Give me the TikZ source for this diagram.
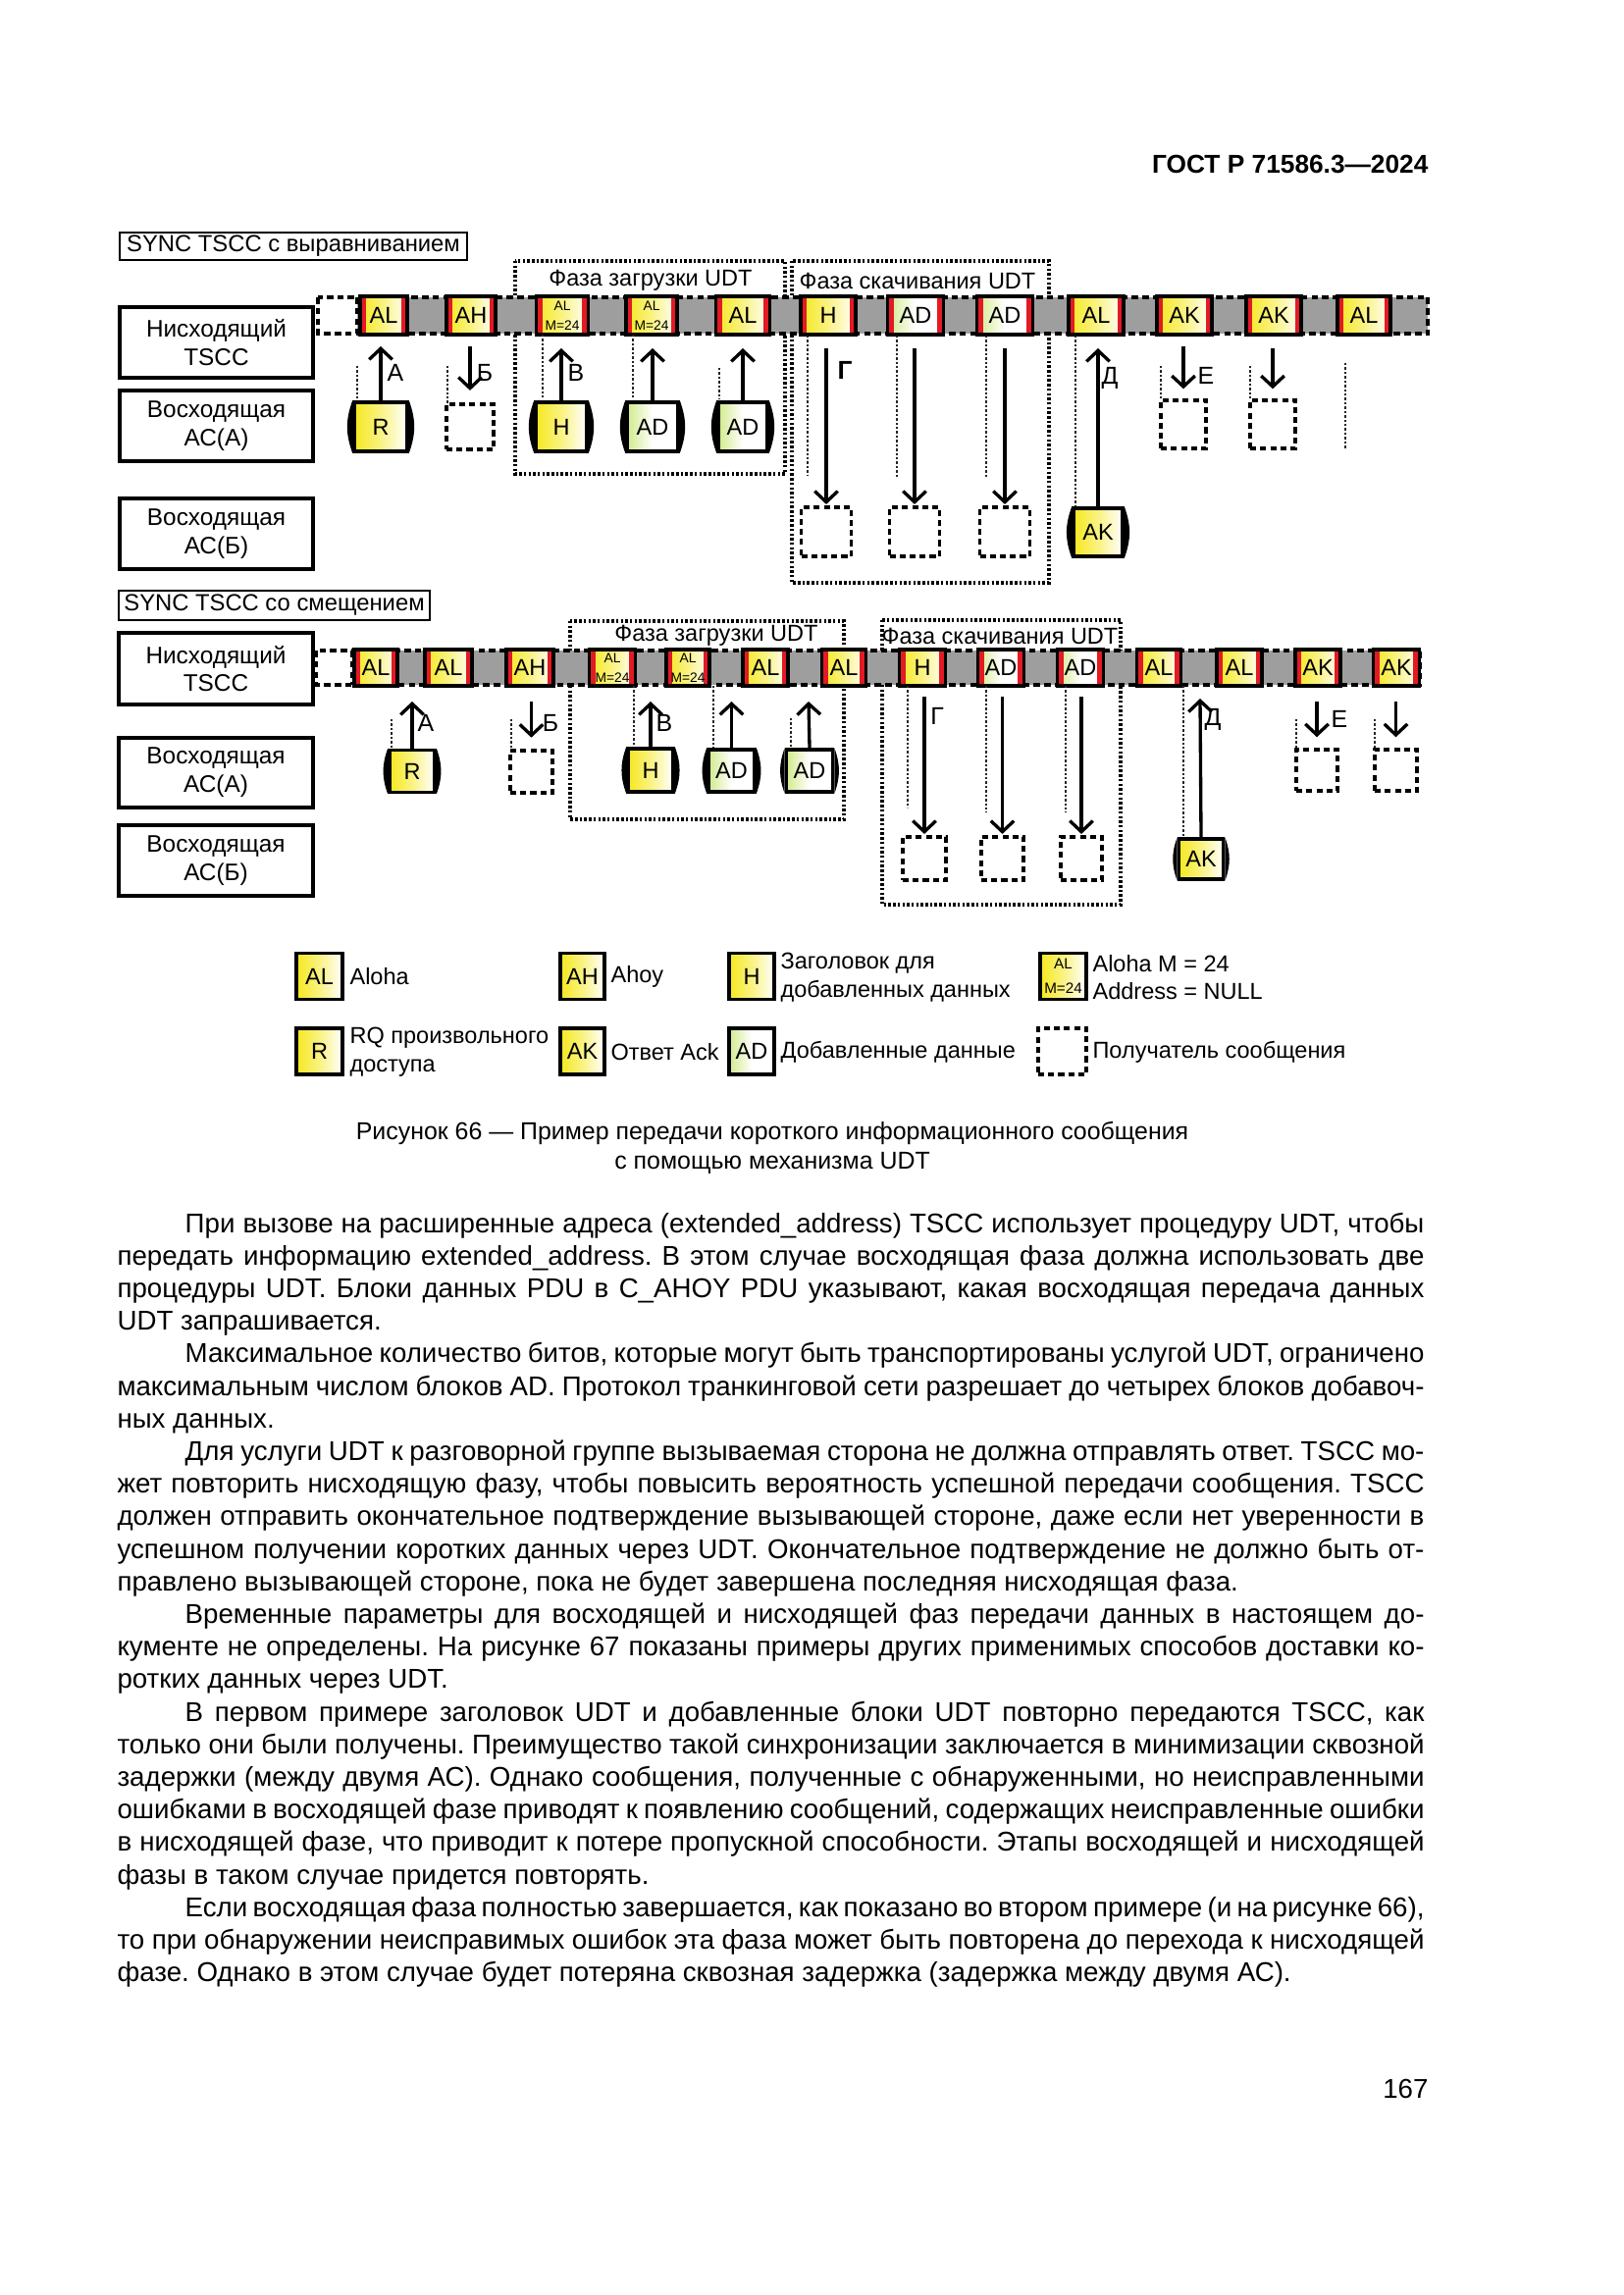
\documentclass[tikz,border=0pt]{standalone}
\usepackage{fontspec}
\setmainfont{Liberation Sans}
\usetikzlibrary{arrows.meta}
\newcommand\pu{0.127mm}
\definecolor{cellyel}{RGB}{245,232,30}
\definecolor{cellred}{RGB}{226,26,36}
\definecolor{bargray}{RGB}{158,158,158}
\definecolor{adgreen}{RGB}{190,225,90}
\newcommand\bodyline[1]{\hbox to 481.3pt{#1}}
\newcommand\bodyfirst[1]{\hbox to 481.3pt{\hskip 25pt #1}}
\newcommand\bodylast[1]{\hbox{#1}}
\newcommand\mkcell[7][cell]{\node[#1, minimum width=#5*\pu, minimum height=#6*\pu] (#2) at (#3,#4) {#7};}
\newcommand\mkup[7][upbox]{\node[#1, minimum width=#5*\pu, minimum height=#6*\pu] (#2) at (#3,#4) {#7};
  \fill (#2.north west) to[bend right=20] (#2.south west) -- cycle;
  \fill (#2.north east) to[bend left=20] (#2.south east) -- cycle;}
\begin{document}
\frenchspacing
\begin{tikzpicture}[x=0.127mm, y=-0.127mm,
  dfont/.style={font=\fontsize{8.5}{10.3}\selectfont},
  lbox/.style={draw, line width=1.2pt, align=center, inner sep=0pt, font=\fontsize{8.8}{10.4}\selectfont},
  cellbase/.style={draw, line width=1.3pt, inner sep=0pt, align=center, font=\fontsize{8.5}{10}\selectfont},
  yel/.style={left color=cellyel, right color=white, middle color=cellyel!55},
  adf/.style={left color=adgreen!70, right color=white, middle color=white},
  redsides/.style={path picture={
    \fill[cellred] ([xshift=0.6pt]path picture bounding box.south west) rectangle ([xshift=2.2pt]path picture bounding box.north west);
    \fill[cellred] ([xshift=-2.2pt]path picture bounding box.south east) rectangle ([xshift=-0.6pt]path picture bounding box.north east);}},
  cell/.style={cellbase, yel, redsides},
  adcell/.style={cellbase, adf, redsides},
  upbox/.style={cellbase, yel},
  adupbox/.style={cellbase, adf},
  legcell/.style={cellbase, yel},
  legad/.style={cellbase, adf},
  smallf/.style={font=\fontsize{5}{7.3}\selectfont},
  rcpt/.style={draw, line width=1.2pt, dash pattern=on 2.2pt off 1.5pt, inner sep=0pt},
  arr/.style={line width=1.2pt, -{Straight Barb[length=4pt,width=8.5pt]}},
  trace/.style={line width=0.9pt, dash pattern=on 0.9pt off 0.7pt, black!85},
  frame/.style={line width=1.1pt, dash pattern=on 0.9pt off 0.8pt},
  bardash/.style={line width=1.2pt, dash pattern=on 2.4pt off 1.5pt},
  lab/.style={font=\fontsize{9}{10}\selectfont, inner sep=0pt},
]
\fill[white] (0,0) rectangle (1654,2339);
\useasboundingbox (0,0) rectangle (1654,2339);

% header
\node[anchor=base east, inner sep=0pt, font=\bfseries\fontsize{9.5}{11}\selectfont] (hdr) at (1456,177) {ГОСТ Р 71586.3—2024};

% ================= TOP DIAGRAM =================
\node[lbox, line width=1pt, minimum width=354*\pu, minimum height=28*\pu, font=\fontsize{8.6}{10}\selectfont] (sy1) at (299,251) {SYNC TSCC с выравниванием};
\node[lbox, minimum width=197*\pu, minimum height=72*\pu] (dl1) at (220.5,349) {Нисходящий\\TSCC};
\node[lbox, minimum width=197*\pu, minimum height=72*\pu] (ua1) at (220.5,434) {Восходящая\\АС(А)};
\node[lbox, minimum width=197*\pu, minimum height=72*\pu] (ub1) at (220.5,544) {Восходящая\\АС(Б)};

\draw[frame] (525,266) rectangle (800,483);
\node[dfont] (fu1) at (663,286) {Фаза загрузки UDT};
\draw[frame] (807,266) rectangle (1069,594);
\node[dfont] (fd1) at (935,286) {Фаза скачивания UDT};

\fill[bargray] (364,303) rectangle (1455,340);
\draw[bardash] (324,303) rectangle (1455,340);
\draw[bardash] (364,303) -- (364,340);

\mkcell{t1}{391}{321.5}{48}{39}{AL}
\mkcell{t2}{480}{321.5}{50}{39}{AH}
\mkcell[cell,smallf]{t3}{573}{321.5}{53}{39}{AL\\M=24}
\mkcell[cell,smallf]{t4}{664}{321.5}{52}{39}{AL\\M=24}
\mkcell{t5}{757}{321.5}{55}{39}{AL}
\mkcell{t6}{844}{321.5}{56}{39}{H}
\mkcell[adcell]{t7}{933}{321.5}{57}{39}{AD}
\mkcell[adcell]{t8}{1024}{321.5}{57}{39}{AD}
\mkcell{t9}{1117}{321.5}{56}{39}{AL}
\mkcell{t10}{1207}{321.5}{56}{39}{AK}
\mkcell{t11}{1298}{321.5}{56}{39}{AK}
\mkcell{t12}{1390}{321.5}{54}{39}{AL}

% traces
\draw[trace] (364,373) -- (364,410);
\draw[trace] (456,373) -- (456,412);
\draw[trace] (553,341) -- (553,407);
\draw[trace] (645,341) -- (645,407);
\draw[trace] (733,375) -- (733,407);
\draw[trace] (823,342) -- (823,485);
\draw[trace] (914,342) -- (914,487);
\draw[trace] (1005,342) -- (1005,487);
\draw[trace] (1096,342) -- (1096,517);
\draw[trace] (1183,373) -- (1183,408);
\draw[trace] (1274,373) -- (1274,408);
\draw[trace] (1371,370) -- (1371,458);

\mkup{ra1}{388}{435}{54}{50}{R}
\mkup{ha1}{572}{435}{52}{50}{H}
\mkup[adupbox]{ada1}{665}{435}{52}{50}{AD}
\mkup[adupbox]{adb1}{757}{435}{50}{50}{AD}
\mkup{ak1}{1119}{542.5}{50}{49}{AK}

\node[rcpt, minimum width=48*\pu, minimum height=46*\pu] (rb1) at (479,435) {};
\node[rcpt, minimum width=51*\pu, minimum height=50*\pu] (rg1) at (842,542) {};
\node[rcpt, minimum width=51*\pu, minimum height=50*\pu] (rg2) at (932,542) {};
\node[rcpt, minimum width=51*\pu, minimum height=50*\pu] (rg3) at (1024,542) {};
\node[rcpt, minimum width=46*\pu, minimum height=49*\pu] (re1) at (1206,432.5) {};
\node[rcpt, minimum width=46*\pu, minimum height=49*\pu] (re2) at (1297,432.5) {};

\coordinate (pa1) at (388,353);
\coordinate (pb1) at (479,353);
\coordinate (pv1) at (572,355);
\coordinate (pd1) at (665,355);
\coordinate (pd2) at (757,355);
\coordinate (pg1) at (842,355);
\coordinate (pg2) at (932,355);
\coordinate (pg3) at (1024,355);
\coordinate (pk1) at (1119,355);
\coordinate (pe1) at (1206,353);
\coordinate (pe2) at (1297,355);
\draw[arr] (ra1.north) -- (pa1);
\draw[arr, shorten >=4.5pt] (pb1) -- (rb1.north);
\draw[arr] (ha1.north) -- (pv1);
\draw[arr] (ada1.north) -- (pd1);
\draw[arr] (adb1.north) -- (pd2);
\draw[arr, shorten >=0.5pt] (pg1) -- (rg1.north);
\draw[arr, shorten >=0.5pt] (pg2) -- (rg2.north);
\draw[arr, shorten >=0.5pt] (pg3) -- (rg3.north);
\draw[arr] (ak1.north) -- (pk1);
\draw[arr, shorten >=3.6pt] (pe1) -- (re1.north);
\draw[arr, shorten >=3.6pt] (pe2) -- (re2.north);

\node[lab] (la1) at (403,380) {А};
\node[lab] (lb1) at (494,380) {Б};
\node[lab] (lv1) at (587,380) {В};
\node[lab, font=\bfseries\fontsize{9.5}{10}\selectfont] (lg1) at (861,377) {Г};
\node[lab] (ld1) at (1131,385) {Д};
\node[lab] (le1) at (1229,383) {Е};

% ================= BOTTOM DIAGRAM =================
\node[lbox, line width=1pt, minimum width=317*\pu, minimum height=30*\pu, font=\fontsize{8.6}{10}\selectfont] (sy2) at (279.5,617) {SYNC TSCC со смещением};
\node[lbox, minimum width=198*\pu, minimum height=73*\pu] (dl2) at (220,681.5) {Нисходящий\\TSCC};
\node[lbox, minimum width=198*\pu, minimum height=71*\pu] (ua2) at (220,787.5) {Восходящая\\АС(А)};
\node[lbox, minimum width=198*\pu, minimum height=72*\pu] (ub2) at (220,877) {Восходящая\\АС(Б)};

\draw[frame] (581,633) rectangle (860,835);
\node[dfont] (fu2) at (730,648) {Фаза загрузки UDT};
\draw[frame] (899,632) rectangle (1142,922);
\node[dfont] (fd2) at (1019,648) {Фаза скачивания UDT};

\fill[bargray] (359,663) rectangle (1447,698);
\draw[bardash] (322,663) rectangle (1447,698);
\draw[bardash] (359,663) -- (359,698);

\mkcell{s1}{383}{680.5}{44}{37}{AL}
\mkcell{s2}{457}{680.5}{48}{37}{AL}
\mkcell{s3}{540}{680.5}{48}{37}{AH}
\mkcell[cell,smallf]{s4}{624}{680.5}{47}{37}{AL\\M=24}
\mkcell[cell,smallf]{s5}{701}{680.5}{44}{37}{AL\\M=24}
\mkcell{s6}{780}{680.5}{46}{37}{AL}
\mkcell{s7}{860}{680.5}{45}{37}{AL}
\mkcell{s8}{940}{680.5}{47}{37}{H}
\mkcell[adcell]{s9}{1020}{680.5}{47}{37}{AD}
\mkcell[adcell]{s10}{1101}{680.5}{47}{37}{AD}
\mkcell{s11}{1181}{680.5}{45}{37}{AL}
\mkcell{s12}{1263}{680.5}{46}{37}{AL}
\mkcell{s13}{1343}{680.5}{46}{37}{AK}
\mkcell{s14}{1423}{680.5}{47}{37}{AK}

\draw[trace] (399,733) -- (399,765);
\draw[trace] (521,733) -- (521,765);
\draw[trace] (646,699) -- (646,763);
\draw[trace] (727,699) -- (727,764);
\draw[trace] (806,732) -- (806,764);
\draw[trace] (925,699) -- (925,823);
\draw[trace] (1005,699) -- (1005,828);
\draw[trace] (1086,699) -- (1086,828);
\draw[trace] (1206,699) -- (1206,855);
\draw[trace] (1321,733) -- (1321,764);
\draw[trace] (1401,733) -- (1401,764);

\mkup{ra2}{420}{786}{46}{43}{R}
\mkup{ha2}{663}{785}{46}{44}{H}
\mkup[adupbox]{ada2}{745.5}{785.5}{47}{43}{AD}
\mkup[adupbox]{adb2}{825}{785.5}{47}{43}{AD}
\mkup{ak2}{1224}{875.5}{45}{41}{AK}

\node[rcpt, minimum width=43*\pu, minimum height=43*\pu] (rb2) at (541.5,786.5) {};
\node[rcpt, minimum width=44*\pu, minimum height=44*\pu] (rg4) at (942,875) {};
\node[rcpt, minimum width=43*\pu, minimum height=44*\pu] (rg5) at (1021.5,875) {};
\node[rcpt, minimum width=42*\pu, minimum height=44*\pu] (rg6) at (1102,875) {};
\node[rcpt, minimum width=42*\pu, minimum height=42*\pu] (re3) at (1342,785) {};
\node[rcpt, minimum width=43*\pu, minimum height=42*\pu] (re4) at (1422.5,785) {};

\coordinate (pa2) at (420,715);
\coordinate (pb2) at (541.5,715);
\coordinate (pv2) at (663,715);
\coordinate (pd3) at (745.5,715);
\coordinate (pd4) at (824,715);
\coordinate (pg4) at (942,710);
\coordinate (pg5) at (1021.5,710);
\coordinate (pg6) at (1102,710);
\coordinate (pk2) at (1223,712);
\coordinate (pe3) at (1342,715);
\coordinate (pe4) at (1422.5,715);
\draw[arr] (ra2.north) -- (pa2);
\draw[arr, shorten >=4.2pt] (pb2) -- (rb2.north);
\draw[arr] (ha2.north) -- (pv2);
\draw[arr] (ada2.north) -- (pd3);
\draw[arr] (adb2.north) -- (pd4);
\draw[arr, shorten >=0.5pt] (pg4) -- (rg4.north);
\draw[arr, shorten >=0.5pt] (pg5) -- (rg5.north);
\draw[arr, shorten >=0.5pt] (pg6) -- (rg6.north);
\draw[arr] (ak2.north) -- (pk2);
\draw[arr, shorten >=4pt] (pe3) -- (re3.north);
\draw[arr, shorten >=4pt] (pe4) -- (re4.north);

\node[lab] (la2) at (434,737) {А};
\node[lab] (lb2) at (561,737) {Б};
\node[lab] (lv2) at (677,737) {В};
\node[lab] (lg2) at (955,730) {Г};
\node[lab] (ld2) at (1236,733) {Д};
\node[lab] (le2) at (1365,733) {Е};

% ================= LEGEND =================
\mkcell[legcell]{lg1b}{325.5}{995}{47}{47}{AL}
\mkcell[legcell]{lg2b}{593.5}{995}{45}{47}{AH}
\mkcell[legcell]{lg3b}{766}{995}{46}{47}{H}
\mkcell[legcell,font=\fontsize{5.5}{9}\selectfont]{lg4b}{1083.5}{995}{47}{47}{AL\\M=24}
\mkcell[legcell]{lg5b}{325.5}{1071.5}{47}{47}{R}
\mkcell[legcell]{lg6b}{593.5}{1071.5}{45}{47}{AK}
\mkcell[legad]{lg7b}{766}{1071.5}{46}{47}{AD}
\node[rcpt, minimum width=49*\pu, minimum height=47*\pu] (lg8b) at (1082.5,1071.5) {};

\node[dfont, anchor=west, inner sep=0pt] (lt1) at (356,995) {Aloha};
\node[dfont, anchor=west, inner sep=0pt] (lt2) at (622,995) {Ahoy};
\node[dfont, anchor=west, inner sep=0pt, align=left] (lt3) at (795,996) {Заголовок для\\добавленных данных};
\node[dfont, anchor=west, inner sep=0pt, align=left] (lt4) at (1113,996) {Aloha M = 24\\Address = NULL};
\node[dfont, anchor=west, inner sep=0pt, align=left] (lt5) at (356,1072) {RQ произвольного\\доступа};
\node[dfont, anchor=west, inner sep=0pt] (lt6) at (622,1072) {Ответ Ack};
\node[dfont, anchor=west, inner sep=0pt] (lt7) at (795,1072) {Добавленные данные};
\node[dfont, anchor=west, inner sep=0pt] (lt8) at (1113,1072) {Получатель сообщения};

% caption
\node[anchor=base, inner sep=0pt, font=\fontsize{9}{11}\selectfont] (cap1) at (787,1161) {Рисунок 66 — Пример передачи короткого информационного сообщения};
\node[anchor=base, inner sep=0pt, font=\fontsize{9}{11}\selectfont] (cap2) at (787,1191) {с помощью механизма UDT};

% body text
\node[anchor=base west, inner sep=0pt] (body) at (119,1256) {\fontsize{10}{12}\selectfont\frenchspacing\vtop{\baselineskip=12pt\lineskiplimit=-20pt
\bodyfirst{При вызове на расширенные адреса (extended\_address) TSCC использует процедуру UDT, чтобы}
\bodyline{передать информацию extended\_address. В этом случае восходящая фаза должна использовать две}
\bodyline{процедуры UDT. Блоки данных PDU в C\_AHOY PDU указывают, какая восходящая передача данных}
\bodylast{UDT запрашивается.}
\bodyfirst{Максимальное количество битов, которые могут быть транспортированы услугой UDT, ограничено}
\bodyline{максимальным числом блоков AD. Протокол транкинговой сети разрешает до четырех блоков добавоч-}
\bodylast{ных данных.}
\bodyfirst{Для услуги UDT к разговорной группе вызываемая сторона не должна отправлять ответ. TSCC мо-}
\bodyline{жет повторить нисходящую фазу, чтобы повысить вероятность успешной передачи сообщения. TSCC}
\bodyline{должен отправить окончательное подтверждение вызывающей стороне, даже если нет уверенности в}
\bodyline{успешном получении коротких данных через UDT. Окончательное подтверждение не должно быть от-}
\bodylast{правлено вызывающей стороне, пока не будет завершена последняя нисходящая фаза.}
\bodyfirst{Временные параметры для восходящей и нисходящей фаз передачи данных в настоящем до-}
\bodyline{кументе не определены. На рисунке 67 показаны примеры других применимых способов доставки ко-}
\bodylast{ротких данных через UDT.}
\bodyfirst{В первом примере заголовок UDT и добавленные блоки UDT повторно передаются TSCC, как}
\bodyline{только они были получены. Преимущество такой синхронизации заключается в минимизации сквозной}
\bodyline{задержки (между двумя АС). Однако сообщения, полученные с обнаруженными, но неисправленными}
\bodyline{ошибками в восходящей фазе приводят к появлению сообщений, содержащих неисправленные ошибки}
\bodyline{в нисходящей фазе, что приводит к потере пропускной способности. Этапы восходящей и нисходящей}
\bodylast{фазы в таком случае придется повторять.}
\bodyfirst{Если восходящая фаза полностью завершается, как показано во втором примере (и на рисунке 66),}
\bodyline{то при обнаружении неисправимых ошибок эта фаза может быть повторена до перехода к нисходящей}
\bodylast{фазе. Однако в этом случае будет потеряна сквозная задержка (задержка между двумя АС).}
}};

% page number
\node[anchor=base east, inner sep=0pt, font=\fontsize{10}{12}\selectfont] (pg) at (1456,2138) {167};
\end{tikzpicture}
\end{document}
